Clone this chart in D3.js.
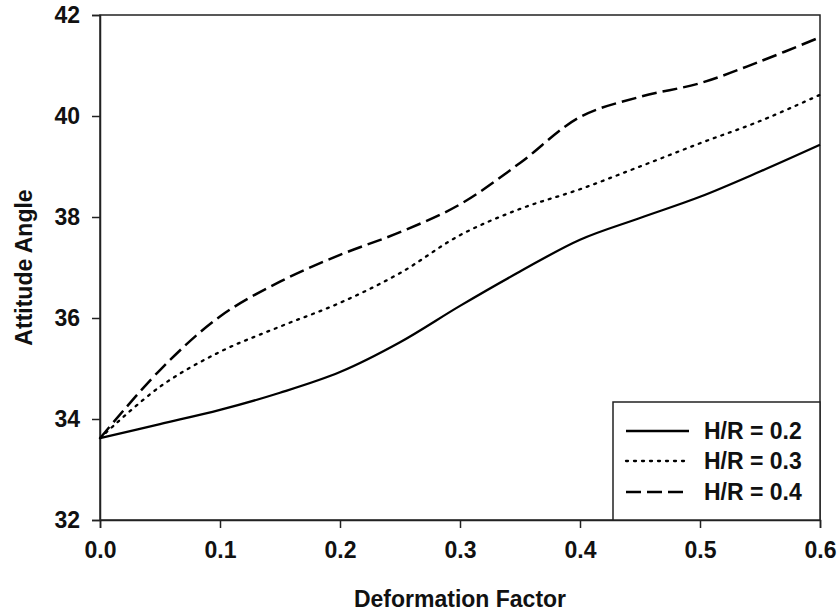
<!DOCTYPE html>
<html>
<head>
<meta charset="utf-8">
<script src="https://cdn.jsdelivr.net/npm/d3@7"></script>
<style>
  html, body { margin: 0; padding: 0; background: #fff; }
  svg { display: block; }
  text { font-family: "Liberation Sans", Arial, sans-serif; font-weight: bold; fill: #111; }
</style>
</head>
<body>
<svg id="chart" width="839" height="615"></svg>
<script>
// Deformation factor samples (x axis)
const deformation = [0, 0.05, 0.1, 0.15, 0.2, 0.25, 0.3, 0.35, 0.4, 0.45, 0.5, 0.55, 0.6];

// Attitude angle for each H/R ratio
const hr02 = [33.62, 33.90, 34.18, 34.52, 34.93, 35.52, 36.24, 36.92, 37.55, 37.98, 38.40, 38.90, 39.43];
const hr03 = [33.62, 34.64, 35.33, 35.83, 36.30, 36.89, 37.64, 38.16, 38.55, 39.00, 39.46, 39.90, 40.42];
const hr04 = [33.62, 34.97, 36.03, 36.72, 37.25, 37.70, 38.25, 39.07, 39.98, 40.38, 40.65, 41.08, 41.56];

const seriesLabels = ["H/R = 0.2", "H/R = 0.3", "H/R = 0.4"];
const xTicks = [0, 0.1, 0.2, 0.3, 0.4, 0.5, 0.6];
const yTicks = [32, 34, 36, 38, 40, 42];

const styles = [
  { dash: null, width: 2.3 },
  { dash: "2,6", width: 2.3 },
  { dash: "15,6", width: 2.5 }
];

const svg = d3.select("#chart");
const plotLeft = 100, plotRight = 820, plotTop = 15, plotBottom = 520;
const fontSize = "23px";

const x = d3.scaleLinear().domain([0, 0.6]).range([plotLeft, plotRight]);
const y = d3.scaleLinear().domain([32, 42]).range([plotBottom, plotTop]);

// Frame
svg.append("rect")
  .attr("x", plotLeft).attr("y", plotTop)
  .attr("width", plotRight - plotLeft).attr("height", plotBottom - plotTop)
  .attr("fill", "none").attr("stroke", "#222").attr("stroke-width", 1.5);

// Axes
const xAxis = svg.append("g")
  .attr("transform", `translate(0,${plotBottom})`)
  .call(d3.axisBottom(x).tickValues(xTicks).tickFormat(d3.format(".1f")).tickSize(8).tickPadding(14));
const yAxis = svg.append("g")
  .attr("transform", `translate(${plotLeft},0)`)
  .call(d3.axisLeft(y).tickValues(yTicks).tickFormat(d3.format("d")).tickSize(8).tickPadding(12));

[xAxis, yAxis].forEach(g => {
  g.select(".domain").attr("stroke", "#222").attr("stroke-width", 1.5);
  g.selectAll(".tick line").attr("stroke", "#222").attr("stroke-width", 1.5);
  g.selectAll(".tick text")
    .attr("fill", "#111")
    .style("font-family", "'Liberation Sans', Arial, sans-serif")
    .style("font-weight", "bold")
    .style("font-size", fontSize);
});

// Curves
const line = d3.line()
  .x((d, i) => x(deformation[i]))
  .y(d => y(d))
  .curve(d3.curveCatmullRom.alpha(0.5));

[hr02, hr03, hr04].forEach((vals, k) => {
  svg.append("path")
    .datum(vals)
    .attr("d", line)
    .attr("fill", "none")
    .attr("stroke", "#000")
    .attr("stroke-width", styles[k].width)
    .attr("stroke-dasharray", styles[k].dash)
    .attr("stroke-linecap", k === 1 ? "round" : "butt");
});

// Axis titles
svg.append("text")
  .attr("x", (plotLeft + plotRight) / 2).attr("y", 607)
  .attr("text-anchor", "middle")
  .style("font-size", fontSize)
  .text("Deformation Factor");

svg.append("text")
  .attr("transform", `translate(32,${(plotTop + plotBottom) / 2}) rotate(-90)`)
  .attr("text-anchor", "middle")
  .style("font-size", fontSize)
  .text("Attitude Angle");

// Legend
const lg = svg.append("g");
lg.append("rect")
  .attr("x", 613).attr("y", 402)
  .attr("width", plotRight - 613).attr("height", plotBottom - 402)
  .attr("fill", "#fff").attr("stroke", "#222").attr("stroke-width", 1.5);

const legendRows = [431, 461, 492];
seriesLabels.forEach((lab, k) => {
  lg.append("line")
    .attr("x1", 626).attr("x2", 689)
    .attr("y1", legendRows[k]).attr("y2", legendRows[k])
    .attr("stroke", "#000")
    .attr("stroke-width", styles[k].width)
    .attr("stroke-dasharray", styles[k].dash)
    .attr("stroke-linecap", k === 1 ? "round" : "butt");
  lg.append("text")
    .attr("x", 704).attr("y", legendRows[k] + 8)
    .style("font-size", fontSize)
    .text(lab);
});
</script>
</body>
</html>
